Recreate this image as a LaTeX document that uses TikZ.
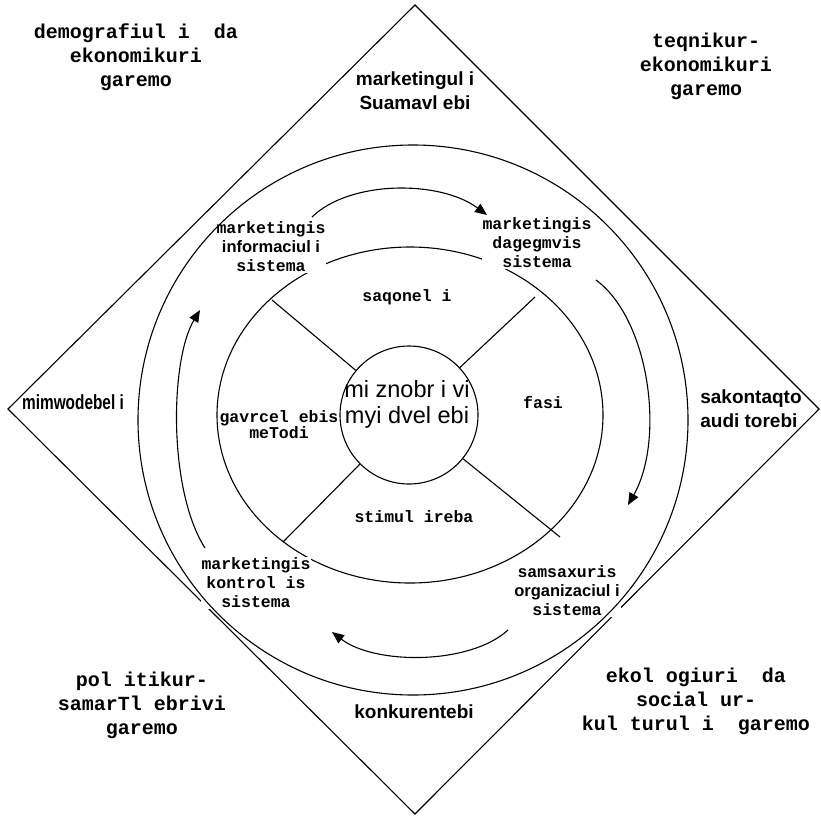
\documentclass[tikz,border=0pt]{standalone}
\usepackage{fontspec}
\usepackage{tikz}
\usetikzlibrary{arrows.meta}
\newfontfamily\monofont{Liberation Mono}
\newfontfamily\sansfont{Liberation Sans}
\newfontfamily\narrowfont[FakeStretch=0.75]{Liberation Sans}

\begin{document}
\begin{tikzpicture}[
  x=1pt, y=-1pt,
  line width=1.1pt,
  env/.style={font=\monofont\bfseries\fontsize{20}{24}\selectfont, align=center},
  actor/.style={font=\sansfont\bfseries\fontsize{19}{24}\selectfont, align=center},
  sys/.style={font=\monofont\bfseries\fontsize{16.5}{19}\selectfont, align=center,
              fill=white, inner sep=1pt},
  mix/.style={font=\monofont\bfseries\fontsize{16.5}{16}\selectfont, align=center},
  flow/.style={-{Triangle[length=12pt,width=10pt]}, line width=1.1pt}]

\useasboundingbox (0,0) rectangle (821,817);

% environment frame
\draw (415,5) -- (819,409) -- (415,814) -- (8,409) -- cycle;

% marketing mix ring around the target
\draw (410,415) ellipse [x radius=193, y radius=168];
\node[circle, draw, minimum size=138pt, inner sep=0pt] (hub) at (409,415) {};

\coordinate (ul) at (272,300);
\coordinate (ur) at (535,297);
\coordinate (ll) at (283,542);
\coordinate (lr) at (560,537);
\draw (hub.140) -- (ul);
\draw (hub.43) -- (ur);
\draw (hub.225) -- (ll);
\draw (hub.321) -- (lr);

\node[env] (envdemo) at (136,57) {demografiul i~~da\\ekonomikuri\\garemo};
\node[env] (envtech) at (706,66) {teqnikur-\\ekonomikuri\\garemo};
\node[env] (envpol) at (142,705) {pol itikur-\\samarTl ebrivi\\garemo};
\node[env] (enveco) at (696,701) {ekol ogiuri~~da\\social ur-\\kul turul i~~garemo};

\node[actor] (intermed) at (415,91) {marketingul i\\Suamavl ebi};
\node[actor, font=\narrowfont\bfseries\fontsize{20.5}{24}\selectfont] (suppliers) at (73,402) {mimwodebel i};
\node[actor, align=left] (contact) at (751,409) {sakontaqto\\audi torebi};
\node[actor] (rivals) at (414,712) {konkurentebi};

\node[mix] (product) at (407,297) {saqonel i};
\node[mix] (price) at (543,402) {fasi};
\node[mix] (place) at (279,425) {gavrcel ebis\\meTodi};
\node[mix] (promo) at (414,517) {stimul ireba};
\node[font=\sansfont\fontsize{23.5}{26}\selectfont, align=center] (target) at (407,404) {mi znobr i vi\\myi dvel ebi};

\node[sys] (infosys) at (271,247) {marketingis\\{\sansfont informaciul i}\\sistema};
\node[sys] (plansys) at (537,243) {marketingis\\dagegmvis\\sistema};
\node[sys] (orgsys) at (567,591) {samsaxuris\\{\sansfont organizaciul i}\\sistema};
\node[sys] (ctrlsys) at (256,583) {marketingis\\kontrol is\\sistema};

% outer ring
\draw (413,420) circle [radius=275];

% management cycle
\coordinate (f1a) at (312,217);
\coordinate (f1b) at (487,215);
\coordinate (f2a) at (596,280);
\coordinate (f2b) at (628,505);
\coordinate (f3a) at (508,630);
\coordinate (f3b) at (332,632);
\coordinate (f4a) at (205,548);
\coordinate (f4b) at (200,310);
\draw[flow] (f1a) .. controls (350,180) and (440,180) .. (f1b);
\draw[flow] (f2a) .. controls (650,320) and (665,440) .. (f2b);
\draw[flow] (f3a) .. controls (470,665) and (375,665) .. (f3b);
\draw[flow] (f4a) .. controls (168,490) and (170,360) .. (f4b);
\end{tikzpicture}
\end{document}
